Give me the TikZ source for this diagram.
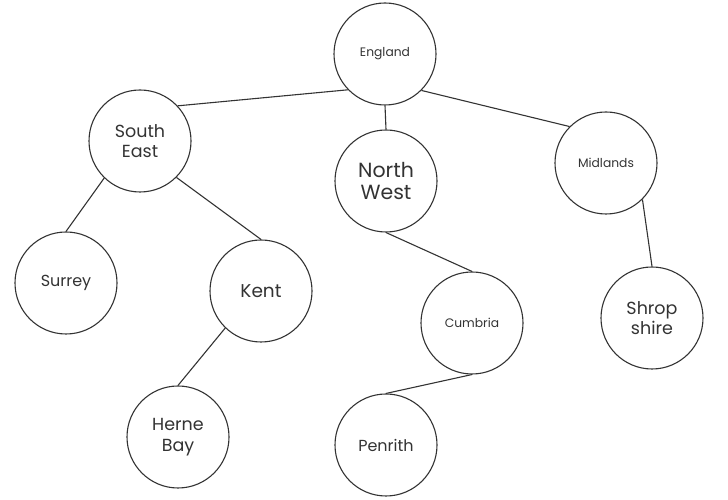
\documentclass[tikz,border=0pt]{standalone}
\usepackage{fontspec}
\setmainfont{Poppins}
\definecolor{inkgray}{HTML}{333333}
\begin{document}
\begin{tikzpicture}[x=1pt,y=1pt]
 \tikzset{region/.style={draw=inkgray,circle,line width=1.1pt,minimum size=102pt,inner sep=0pt,align=center,text=inkgray}}
 \tikzset{small/.style={font=\fontsize{12.3}{14}\selectfont}}
 \tikzset{medium/.style={font=\fontsize{16}{18}\selectfont}}
 \tikzset{large/.style={font=\fontsize{17.5}{20.5}\selectfont}}
  \useasboundingbox (0,0) rectangle (728,500);
  \node[region, small] (England) at (385,446) {England};
  \node[region, large] (SouthEast) at (140,359) {South\\East};
  \node[region, font=\fontsize{20.5}{21.5}\selectfont] (NorthWest) at (386,319) {North\\West};
  \node[region, small] (Midlands) at (606,337) {Midlands};
  \node[region, medium] (Surrey) at (66,217) {Surrey};
  \node[region, font=\fontsize{18.5}{20}\selectfont] (Kent) at (261,209) {Kent};
  \node[region, small] (Cumbria) at (472,177) {Cumbria};
  \node[region, large] (Shropshire) at (652,182) {Shrop\\shire};
  \node[region, large] (HerneBay) at (178,63) {Herne\\Bay};
  \node[region, medium] (Penrith) at (386,55) {Penrith};
  \draw[inkgray, line width=1.1pt] (England.224) -- (SouthEast.43);
  \draw[inkgray, line width=1.1pt] (England.south) -- (NorthWest.north);
  \draw[inkgray, line width=1.1pt] (England.315) -- (Midlands.135);
  \draw[inkgray, line width=1.1pt] (SouthEast.226) -- (Surrey.north);
  \draw[inkgray, line width=1.1pt] (SouthEast.315) -- (Kent.north);
  \draw[inkgray, line width=1.1pt] (Kent.226) -- (HerneBay.north);
  \draw[inkgray, line width=1.1pt] (NorthWest.south) -- (Cumbria.north);
  \draw[inkgray, line width=1.1pt] (Cumbria.south) -- (Penrith.north);
  \draw[inkgray, line width=1.1pt] (Midlands.315) -- (Shropshire.north);
\end{tikzpicture}
\end{document}
